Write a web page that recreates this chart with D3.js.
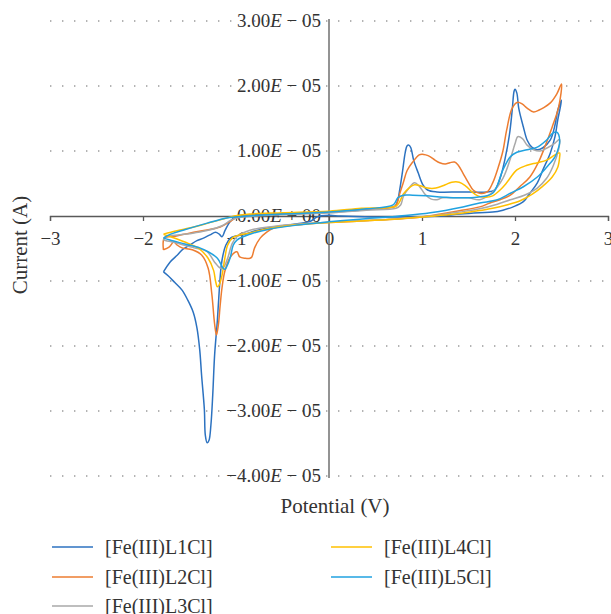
<!DOCTYPE html>
<html>
<head>
<meta charset="utf-8">
<script src="https://cdn.jsdelivr.net/npm/d3@7"></script>
<style>
  body { margin: 0; background: #fff; }
  svg { display: block; }
  text { font-family: "Liberation Serif", "Times New Roman", serif; fill: #333; }
</style>
</head>
<body>
<svg id="chart" width="611" height="614" font-family="'Liberation Serif', serif"></svg>
<script>
// Cyclic voltammograms of the five iron(III) complexes.
// Each point is [potential (V), current (µA)].
const seriesNames = ["[Fe(III)L1Cl]", "[Fe(III)L2Cl]", "[Fe(III)L3Cl]", "[Fe(III)L4Cl]", "[Fe(III)L5Cl]"];
const seriesColors = ["#2c72c0", "#ed7d31", "#a9a9a9", "#ffc000", "#20a2e0"];
const xTicks = [-3, -2, -1, 0, 1, 2, 3];
const yTicks = [3e-5, 2e-5, 1e-5, 0, -1e-5, -2e-5, -3e-5, -4e-5];

const cvL1 = [
  [-1.78,-8.6],[-1.71,-7.1],[-1.63,-6.0],[-1.57,-5.1],[-1.50,-4.5],[-1.42,-3.8],[-1.35,-3.4],[-1.28,-2.9],
  [-1.22,-2.5],[-1.18,-2.8],[-1.15,-3.2],[-1.12,-2.3],[-1.08,-1.2],[-1.04,-0.5],[-1.00,0.0],[-0.85,0.15],
  [-0.63,0.3],[-0.31,0.5],[0.00,0.6],[0.33,0.9],[0.55,1.2],[0.71,1.5],[0.74,2.5],[0.76,4.0],[0.79,6.8],
  [0.82,9.8],[0.84,10.8],[0.86,10.9],[0.88,10.5],[0.91,8.6],[0.96,6.6],[1.01,4.8],[1.06,4.0],[1.16,3.7],
  [1.41,3.7],[1.70,3.7],[1.78,4.0],[1.84,5.8],[1.89,8.6],[1.94,12.5],[1.97,16.3],[1.99,19.2],[2.00,19.5],
  [2.02,18.9],[2.04,16.6],[2.09,13.7],[2.13,11.7],[2.18,10.6],[2.24,10.2],[2.30,10.5],[2.38,11.7],
  [2.43,14.0],[2.46,16.3],[2.50,17.8],
  [2.46,14.8],[2.43,12.2],[2.38,9.7],[2.30,7.1],[2.24,5.1],[2.16,3.5],[2.09,2.2],[1.98,1.4],[1.87,0.9],
  [1.76,0.6],[1.62,0.5],[1.41,0.3],[1.19,0.0],[0.98,-0.15],[0.76,-0.15],[0.47,-0.15],[0.12,0.0],[0.00,0.1],
  [-0.13,-0.15],[-0.20,-0.8],[-0.34,-1.2],[-0.60,-1.7],[-0.71,-2.0],[-0.80,-2.3],[-0.90,-2.8],[-1.01,-3.1],
  [-1.06,-3.4],[-1.11,-4.5],[-1.14,-6.0],[-1.16,-7.8],[-1.18,-11.4],[-1.20,-16.0],[-1.23,-21.4],[-1.25,-27.5],
  [-1.27,-32.2],[-1.29,-34.5],[-1.31,-34.9],[-1.33,-33.7],[-1.34,-29.8],[-1.37,-24.5],[-1.39,-20.6],
  [-1.42,-17.2],[-1.46,-14.8],[-1.52,-12.9],[-1.58,-11.4],[-1.66,-10.2],[-1.73,-9.2],[-1.78,-8.6]
];

const cvL2 = [
  [-1.78,-5.2],[-1.77,-3.4],[-1.65,-3.1],[-1.49,-2.6],[-1.33,-2.2],[-1.17,-1.7],[-1.07,-0.9],[-1.00,-0.3],
  [-0.85,0.0],[-0.50,0.3],[0.00,0.6],[0.40,1.1],[0.71,1.5],[0.74,2.3],[0.76,3.4],[0.80,5.2],[0.84,7.0],
  [0.90,8.3],[0.97,9.4],[1.00,9.5],[1.04,9.4],[1.09,9.1],[1.14,8.6],[1.19,8.2],[1.25,8.0],[1.30,8.2],
  [1.35,8.3],[1.39,7.8],[1.44,6.6],[1.50,5.1],[1.55,4.0],[1.62,3.5],[1.70,3.7],[1.76,5.1],[1.82,7.5],
  [1.87,10.0],[1.91,13.2],[1.97,16.6],[2.03,17.5],[2.08,17.2],[2.13,16.6],[2.20,16.0],[2.26,16.3],
  [2.30,16.6],[2.38,17.4],[2.45,18.8],[2.50,20.3],
  [2.47,16.8],[2.40,13.7],[2.32,10.6],[2.25,8.2],[2.16,6.0],[2.05,4.5],[1.95,3.2],[1.84,2.5],[1.73,2.0],
  [1.62,1.4],[1.40,0.8],[1.20,0.3],[1.00,-0.15],[0.70,-0.5],[0.30,-0.8],[0.00,-1.0],[-0.30,-1.3],
  [-0.60,-1.9],[-0.68,-2.6],[-0.74,-3.4],[-0.80,-4.9],[-0.83,-6.3],[-0.85,-6.5],[-0.90,-6.5],[-0.96,-6.3],
  [-0.99,-5.5],[-1.06,-6.3],[-1.12,-8.5],[-1.15,-11.0],[-1.17,-13.7],[-1.19,-16.8],[-1.21,-18.3],
  [-1.23,-16.6],[-1.26,-12.0],[-1.30,-8.0],[-1.37,-6.0],[-1.47,-5.2],[-1.58,-4.9],[-1.63,-4.5],
  [-1.67,-4.0],[-1.72,-4.8],[-1.78,-5.2]
];

const cvL3 = [
  [-1.78,-3.7],[-1.76,-3.2],[-1.60,-2.9],[-1.45,-2.6],[-1.30,-2.2],[-1.15,-1.5],[-1.05,-0.6],[-0.95,-0.2],
  [-0.60,0.15],[0.00,0.45],[0.40,0.9],[0.72,1.2],[0.77,1.7],[0.80,3.0],[0.86,4.3],[0.92,5.1],[0.97,4.6],
  [1.03,3.4],[1.10,2.6],[1.16,2.5],[1.22,2.8],[1.35,2.8],[1.50,2.8],[1.62,2.5],[1.76,3.7],[1.87,5.8],
  [1.95,8.8],[2.00,11.1],[2.03,12.2],[2.08,11.9],[2.13,10.9],[2.20,10.2],[2.27,10.0],[2.35,10.5],
  [2.43,11.2],[2.48,11.8],
  [2.47,10.3],[2.41,7.7],[2.34,5.8],[2.24,4.3],[2.10,3.2],[1.95,2.5],[1.81,1.8],[1.62,1.1],[1.40,0.6],
  [1.20,0.2],[1.00,-0.1],[0.70,-0.45],[0.30,-0.75],[0.00,-0.95],[-0.30,-1.2],[-0.60,-1.6],[-0.85,-2.2],
  [-0.99,-3.2],[-1.04,-4.2],[-1.09,-6.5],[-1.14,-8.0],[-1.17,-8.0],[-1.23,-7.1],[-1.31,-5.5],
  [-1.45,-4.9],[-1.60,-4.3],[-1.72,-3.9],[-1.78,-3.7]
];

const cvL4 = [
  [-1.78,-2.8],[-1.70,-2.5],[-1.55,-2.0],[-1.40,-1.5],[-1.25,-0.9],[-1.12,-0.4],[-1.02,0.0],[-0.85,0.3],
  [-0.50,0.5],[0.00,0.75],[0.35,1.2],[0.72,1.5],[0.76,2.2],[0.80,3.4],[0.86,4.3],[0.92,4.8],[0.99,4.6],
  [1.06,4.3],[1.15,4.3],[1.25,4.8],[1.32,5.2],[1.40,5.2],[1.47,4.6],[1.53,3.8],[1.60,3.1],[1.68,2.9],
  [1.76,3.1],[1.84,4.0],[1.91,5.1],[2.02,7.1],[2.13,7.8],[2.24,8.2],[2.34,8.6],[2.43,9.4],[2.48,9.7],
  [2.48,9.1],[2.46,7.5],[2.40,6.0],[2.30,4.6],[2.19,3.4],[2.05,2.3],[1.91,1.7],[1.76,1.2],[1.60,0.8],
  [1.40,0.4],[1.20,0.1],[1.00,-0.15],[0.70,-0.5],[0.30,-0.8],[0.00,-1.0],[-0.30,-1.3],[-0.60,-1.8],
  [-0.85,-2.6],[-1.03,-3.3],[-1.09,-4.5],[-1.12,-6.5],[-1.15,-9.1],[-1.18,-10.6],[-1.20,-10.9],
  [-1.22,-10.0],[-1.24,-8.4],[-1.30,-6.5],[-1.40,-5.0],[-1.55,-4.0],[-1.70,-3.2],[-1.78,-2.8]
];

const cvL5 = [
  [-1.78,-3.4],[-1.72,-2.9],[-1.57,-2.2],[-1.31,-1.1],[-1.10,-0.3],[-1.00,-0.15],[-0.70,0.15],[0.00,0.6],
  [0.40,1.1],[0.69,1.7],[0.74,2.8],[0.80,3.2],[0.90,3.2],[1.05,3.1],[1.23,2.9],[1.41,2.8],[1.59,2.9],
  [1.76,3.5],[1.87,7.1],[1.95,9.1],[2.02,9.8],[2.13,10.2],[2.24,10.6],[2.34,11.7],[2.41,12.8],[2.45,12.9],
  [2.47,12.5],[2.48,11.4],
  [2.47,10.6],[2.43,9.1],[2.34,7.5],[2.24,6.0],[2.09,4.5],[1.95,3.5],[1.81,2.5],[1.62,2.0],[1.44,1.4],
  [1.09,0.5],[0.76,0.0],[0.33,-0.5],[0.00,-0.9],[-0.34,-1.4],[-0.63,-2.0],[-0.85,-2.8],[-0.99,-3.7],
  [-1.03,-4.5],[-1.06,-6.3],[-1.10,-7.8],[-1.12,-8.2],[-1.14,-8.0],[-1.20,-6.5],[-1.30,-5.5],
  [-1.39,-4.9],[-1.55,-4.3],[-1.71,-3.7],[-1.78,-3.4]
];

const seriesData = [cvL1, cvL2, cvL3, cvL4, cvL5];

const svg = d3.select("#chart");
const x = d3.scaleLinear().domain([-3, 3]).range([50, 608]);
const y = d3.scaleLinear().domain([-4e-5, 3e-5]).range([476, 21]);

// Dotted horizontal gridlines
svg.append("g")
  .selectAll("line")
  .data(yTicks.filter(v => v !== 0))
  .join("line")
  .attr("x1", x(-3)).attr("x2", x(3))
  .attr("y1", d => y(d)).attr("y2", d => y(d))
  .attr("stroke", "#9a9a9a")
  .attr("stroke-width", 1.4)
  .attr("stroke-dasharray", "1.4,10.6");

// Horizontal axis through zero current
const xAxis = d3.axisBottom(x).tickValues(xTicks).tickSize(5).tickFormat(d => d < 0 ? "\u2212" + Math.abs(d) : String(d));
const gx = svg.append("g").attr("transform", `translate(0,${y(0)})`).call(xAxis);
gx.attr("font-family", null);
gx.select(".domain").attr("stroke", "#595959").attr("stroke-width", 1.3);
gx.selectAll(".tick line").attr("stroke", "#595959").attr("stroke-width", 1.3);
gx.selectAll(".tick text")
  .attr("y", 16).attr("dy", "0.71em")
  .style("font-family", "'Liberation Serif', serif")
  .style("font-size", "19px")
  .attr("fill", "#333");

// Vertical axis through zero potential
svg.append("line")
  .attr("x1", x(0)).attr("x2", x(0))
  .attr("y1", y(3e-5) - 2).attr("y2", y(-4e-5) + 2)
  .attr("stroke", "#595959").attr("stroke-width", 1.3);

function sciParts(v) {
  if (v === 0) return ["0.00", "\u00a0+\u00a000"];
  const e = Math.floor(Math.log10(Math.abs(v)) + 1e-9);
  const m = v / Math.pow(10, e);
  const mant = (m < 0 ? "\u2212" : "") + Math.abs(m).toFixed(2);
  const ex = (e < 0 ? "\u00a0\u2212\u00a0" : "\u00a0+\u00a0") + String(Math.abs(e)).padStart(2, "0");
  return [mant, ex];
}

const yLabels = svg.append("g")
  .selectAll("text")
  .data(yTicks)
  .join("text")
  .attr("x", 321)
  .attr("y", d => y(d) + 6)
  .attr("text-anchor", "end")
  .style("font-size", "19px");
yLabels.each(function(d) {
  const [mant, ex] = sciParts(d);
  const t = d3.select(this);
  t.append("tspan").text(mant);
  t.append("tspan").attr("font-style", "italic").text("E");
  t.append("tspan").text(ex);
});

// Voltammogram traces
const line = d3.line()
  .x(d => x(d[0]))
  .y(d => y(d[1] * 1e-6))
  .curve(d3.curveCatmullRom.alpha(0.5));

svg.append("g")
  .selectAll("path")
  .data(seriesData)
  .join("path")
  .attr("d", line)
  .attr("fill", "none")
  .attr("stroke", (d, i) => seriesColors[i])
  .attr("stroke-width", 1.5)
  .attr("stroke-linejoin", "round");

// Axis titles
svg.append("text")
  .attr("transform", "translate(27,245) rotate(-90)")
  .attr("text-anchor", "middle")
  .style("font-size", "21px")
  .text("Current (A)");

svg.append("text")
  .attr("x", 335).attr("y", 513)
  .attr("text-anchor", "middle")
  .style("font-size", "21px")
  .text("Potential (V)");

// Legend: two columns
const legendPos = [[52, 547], [52, 577], [52, 606], [331, 547], [331, 577]];
const legend = svg.append("g")
  .selectAll("g")
  .data(seriesNames)
  .join("g")
  .attr("transform", (d, i) => `translate(${legendPos[i][0]},${legendPos[i][1]})`);
legend.append("line")
  .attr("x1", 0).attr("x2", 41)
  .attr("stroke", (d, i) => seriesColors[i])
  .attr("stroke-width", 1.5);
legend.append("text")
  .attr("x", 53).attr("y", 7)
  .style("font-size", "20px")
  .text(d => d);
</script>
</body>
</html>
